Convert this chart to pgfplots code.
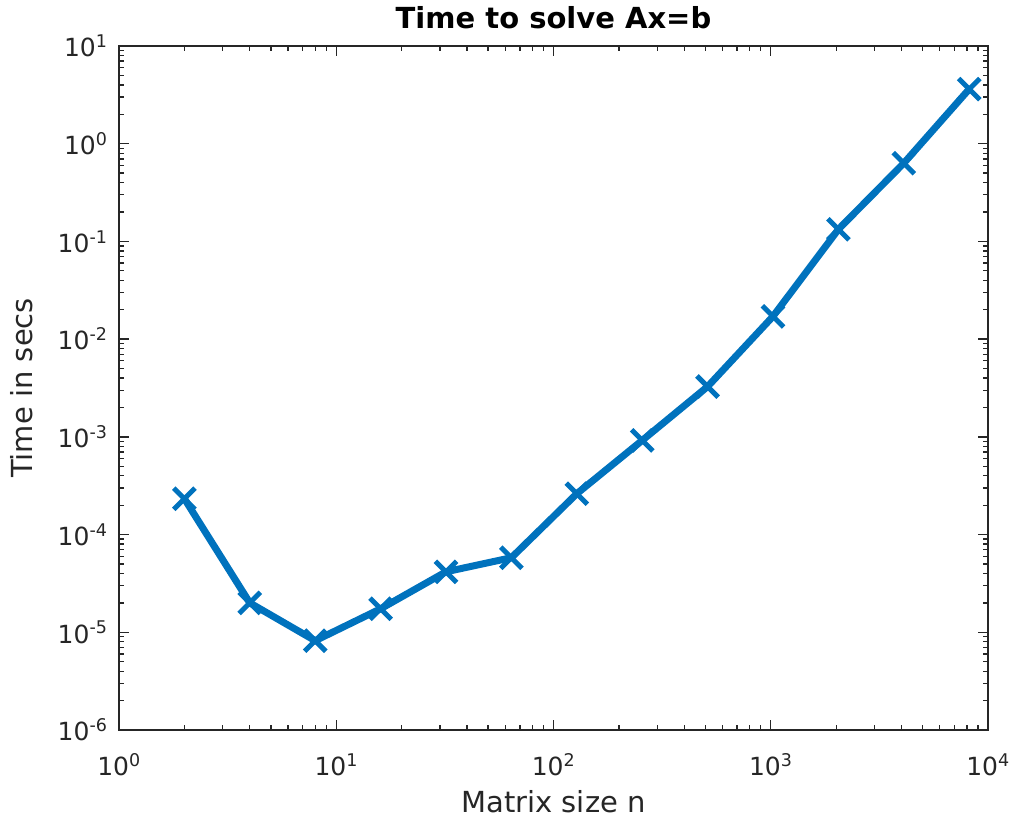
\documentclass[border=0pt]{standalone}
\usepackage{fontspec}
\setmainfont{DejaVu Sans}
\usepackage{pgfplots}
\pgfplotsset{compat=1.18}
\definecolor{mblue}{RGB}{0,114,189}
\definecolor{mgray}{RGB}{38,38,38}
\begin{document}
\begin{tikzpicture}
  \begin{axis}[
    scale only axis,
    width=869pt,
    height=684pt,
    at={(0pt,0pt)},
    anchor=south west,
    xmode=log,
    ymode=log,
    xmin=1, xmax=10000,
    ymin=1e-6, ymax=10,
    xtick={1,10,100,1000,10000},
    xticklabels={10\textsuperscript{0},10\textsuperscript{1},10\textsuperscript{2},10\textsuperscript{3},10\textsuperscript{4}},
    ytick={1e-6,1e-5,1e-4,1e-3,1e-2,1e-1,1,10},
    yticklabels={10\textsuperscript{-6},10\textsuperscript{-5},10\textsuperscript{-4},10\textsuperscript{-3},10\textsuperscript{-2},10\textsuperscript{-1},10\textsuperscript{0},10\textsuperscript{1}},
    tick align=inside,
    tick pos=both,
    major tick length=10pt,
    minor tick length=5pt,
    axis line style={mgray, line width=1.3pt},
    every tick/.style={mgray, line width=1.3pt},
    tick label style={font=\fontsize{25}{28}\selectfont, text=mgray},
    xticklabel style={yshift=-20pt},
    yticklabel style={xshift=-8pt},
    xlabel={Matrix size n},
    ylabel={Time in secs},
    label style={font=\fontsize{29}{32}\selectfont, text=mgray},
    xlabel style={yshift=-8pt},
    ylabel style={yshift=18pt},
    title={Time to solve Ax=b},
    title style={font=\bfseries\fontsize{29}{32}\selectfont, yshift=8pt},
  ]
    \addplot[mblue, line width=7pt, mark=x, mark size=15pt,
      mark options={line width=5pt}]
      coordinates {
        (2,2.33e-4)
        (4,2.0e-5)
        (8,8.2e-6)
        (16,1.74e-5)
        (32,4.16e-5)
        (64,5.8e-5)
        (128,2.62e-4)
        (256,9.2e-4)
        (512,3.27e-3)
        (1024,1.71e-2)
        (2048,0.133)
        (4096,0.632)
        (8192,3.62)
      };
  \end{axis}
  \pgfresetboundingbox
  \path[use as bounding box] (-119pt,-89pt) rectangle (895pt,730pt);
\end{tikzpicture}
\end{document}
